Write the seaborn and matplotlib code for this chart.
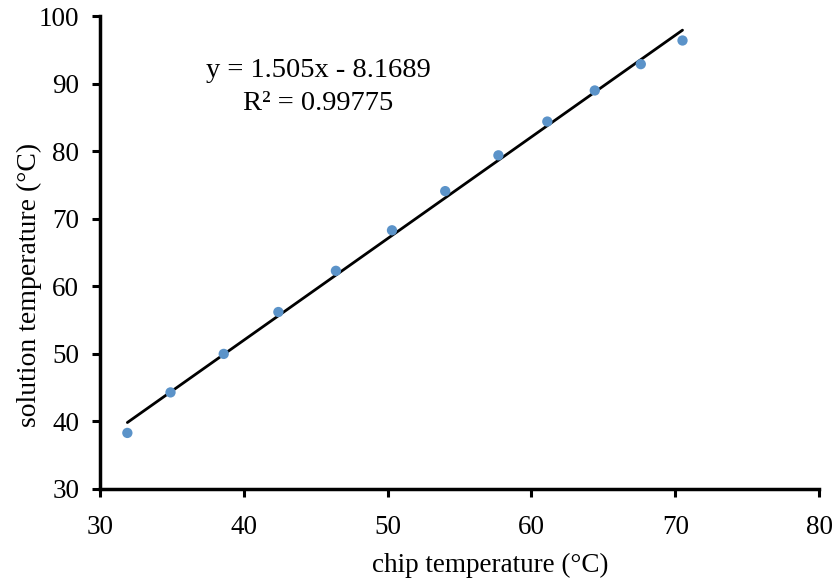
import matplotlib
matplotlib.use("Agg")
import matplotlib.pyplot as plt
import seaborn as sns
import numpy as np
import pandas as pd

chip_temp = [31.9, 34.9, 38.6, 42.4, 46.4, 50.3, 54.0, 57.7, 61.1, 64.4, 67.6, 70.5]
solution_temp = [38.3, 44.3, 50.0, 56.2, 62.3, 68.3, 74.1, 79.4, 84.4, 89.0, 92.9, 96.4]
slope = 1.505
intercept = -8.1689
r2_text = "0.99775"
x_ticks = [30, 40, 50, 60, 70, 80]
y_ticks = [30, 40, 50, 60, 70, 80, 90, 100]

sns.set_style("white")
plt.rcParams['font.family'] = ['Liberation Serif', 'DejaVu Serif']
plt.rcParams['text.color'] = 'black'
plt.rcParams['axes.labelcolor'] = 'black'
plt.rcParams['xtick.color'] = 'black'
plt.rcParams['ytick.color'] = 'black'

df = pd.DataFrame({"chip": chip_temp, "solution": solution_temp})

fig = plt.figure(figsize=(8.35, 5.78), dpi=100)
ax = fig.add_axes([0.1198, 0.154, 0.981 - 0.1198, 0.972 - 0.154])

xs = np.array([min(chip_temp), max(chip_temp)])
ax.plot(xs, slope * xs + intercept, color="black", lw=2.0, zorder=2)
sns.scatterplot(data=df, x="chip", y="solution", ax=ax, color="#5b93c9",
                s=55, edgecolor="none", zorder=3)

ax.set_xlim(30, 80)
ax.set_ylim(30, 100)
ax.set_xticks(x_ticks)
ax.set_yticks(y_ticks)
ax.tick_params(axis="both", direction="out", length=6, width=2.2, labelsize=19.5,
               bottom=True, left=True, colors="black")
ax.tick_params(axis="x", pad=13)
ax.tick_params(axis="y", pad=9)
for s in ["top", "right"]:
    ax.spines[s].set_visible(False)
for s in ["left", "bottom"]:
    ax.spines[s].set_linewidth(2.5)
    ax.spines[s].set_color("black")

ax.set_xlabel("chip temperature (°C)", fontsize=19.5, color="black")
ax.xaxis.set_label_coords(0.542, -0.135)
ax.set_ylabel("solution temperature (°C)", fontsize=20, color="black")
ax.yaxis.set_label_coords(-0.081, 0.431)

ax.text(0.303, 0.886, f"y = {slope}x - {abs(intercept)}", transform=ax.transAxes,
        ha="center", va="center", fontsize=20.5, color="black")
ax.text(0.303, 0.815, f"R² = {r2_text}", transform=ax.transAxes,
        ha="center", va="center", fontsize=20.5, color="black")

fig.savefig("out.png", dpi=100)
